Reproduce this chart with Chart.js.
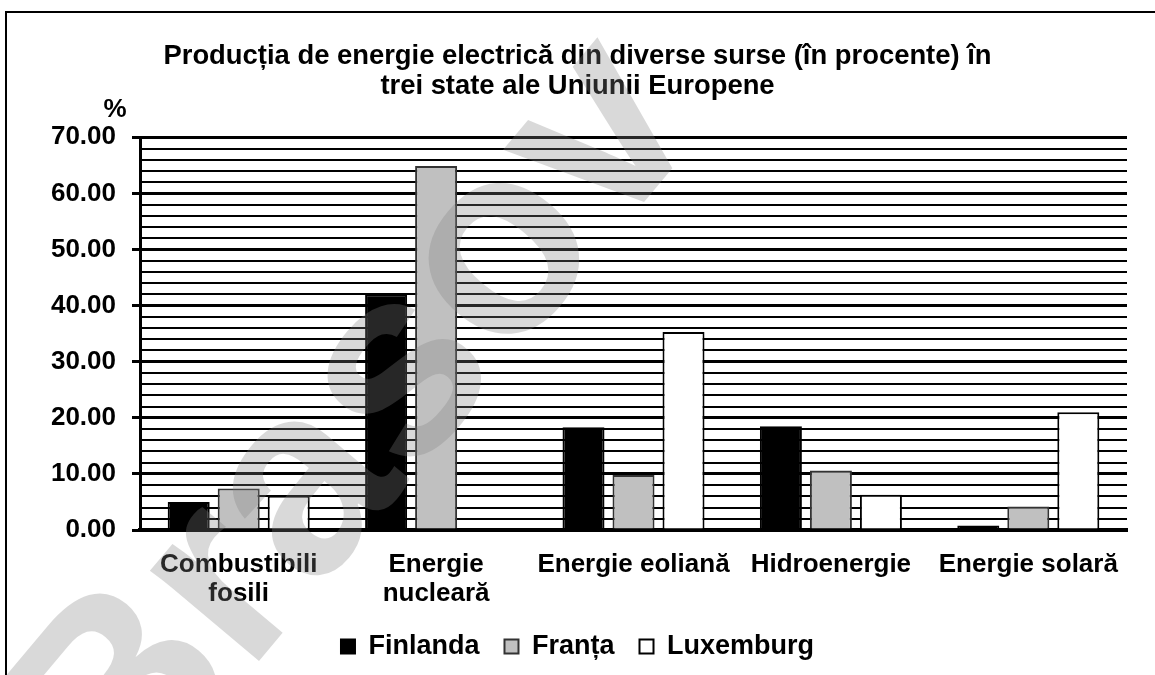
<!DOCTYPE html>
<html>
<head>
<meta charset="utf-8">
<script src="https://cdn.jsdelivr.net/npm/chart.js@4"></script>
<style>
    body { margin: 0; background: #fff; }
    #wrap { position: relative; width: 1155px; height: 675px; overflow: hidden; }
    #frame { position: absolute; left: 5px; top: 11px; width: 1200px; height: 700px; border: 2px solid #000; }
    #chart { position: absolute; left: 0; top: 0; }
</style>
</head>
<body>
<div id="wrap">
    <div id="frame"></div>
    <canvas id="chart" width="1155" height="675"></canvas>
</div>
<script>
const categories = [['Combustibili', 'fosili'], ['Energie', 'nucleară'], 'Energie eoliană', 'Hidroenergie', 'Energie solară'];
const finlanda = [5.0, 42.0, 18.3, 18.5, 0.8];
const franta = [7.4, 64.9, 9.8, 10.6, 4.2];
const luxemburg = [6.1, 0, 35.3, 6.3, 21.0];
const titleLines = ['Producția de energie electrică din diverse surse (în procente) în', 'trei state ale Uniunii Europene'];

Chart.defaults.font.family = '"Liberation Sans", Arial, sans-serif';
Chart.defaults.color = '#000';

// "%" above the value axis
const unitLabel = {
    id: 'unitLabel',
    afterDraw(chart) {
        const ctx = chart.ctx;
        const y = chart.scales.y;
        ctx.save();
        ctx.font = 'bold 26px "Liberation Sans", Arial';
        ctx.fillStyle = '#000';
        ctx.textAlign = 'center';
        ctx.textBaseline = 'middle';
        ctx.fillText('%', y.right - 25, chart.chartArea.top - 27);
        ctx.restore();
    }
};

// faint diagonal watermark
const watermark = {
    id: 'watermark',
    afterDraw(chart) {
        const ctx = chart.ctx;
        ctx.save();
        ctx.translate(358, 428);
        ctx.rotate(-50 * Math.PI / 180);
        ctx.font = 'bold 268px "Liberation Sans", Arial';
        ctx.fillStyle = 'rgba(128, 128, 128, 0.3)';
        ctx.textAlign = 'center';
        ctx.textBaseline = 'middle';
        ctx.fillText('Brasov', 0, 0);
        ctx.restore();
    }
};

new Chart(document.getElementById('chart'), {
    type: 'bar',
    data: {
        labels: categories,
        datasets: [
            { label: 'Finlanda', data: finlanda, backgroundColor: '#000', borderColor: '#000', borderWidth: 2 },
            { label: 'Franța', data: franta, backgroundColor: '#c0c0c0', borderColor: '#333', borderWidth: 2 },
            { label: 'Luxemburg', data: luxemburg, backgroundColor: '#fff', borderColor: '#000', borderWidth: 2 }
        ]
    },
    options: {
        responsive: false,
        animation: false,
        categoryPercentage: 0.76,
        barPercentage: 0.84,
        layout: { padding: { left: 0, right: 0, top: 0, bottom: 5 } },
        plugins: {
            title: {
                display: true,
                text: titleLines,
                font: { size: 27.4, weight: 'bold', lineHeight: 1.1 },
                padding: { top: 41, bottom: 36 }
            },
            legend: {
                position: 'bottom',
                labels: {
                    boxWidth: 14,
                    boxHeight: 14,
                    padding: 25,
                    font: { size: 27, weight: 'bold' }
                }
            },
            tooltip: { enabled: false }
        },
        scales: {
            x: {
                grid: { display: false },
                border: { color: '#000', width: 4 },
                ticks: {
                    autoSkip: false,
                    maxRotation: 0,
                    padding: 12,
                    font: { size: 26, weight: 'bold', lineHeight: 1.12 }
                },
                afterFit(scale) { scale.height = 78; }
            },
            y: {
                min: 0,
                max: 70,
                border: { color: '#000', width: 3 },
                grid: {
                    color: '#000',
                    lineWidth: c => (c.tick && c.tick.value % 10 === 0) ? 3 : 2,
                    tickLength: 8,
                    tickColor: c => (c.tick && c.tick.value % 10 === 0) ? '#000' : 'rgba(0,0,0,0)',
                    tickWidth: 3
                },
                ticks: {
                    stepSize: 2,
                    autoSkip: false,
                    padding: 16,
                    font: { size: 26, weight: 'bold' },
                    callback: v => v % 10 === 0 ? v.toFixed(2) : ''
                },
                afterFit(scale) { scale.width = 140; }
            },
            // empty right-hand strip so the plot stops short of the frame edge
            yRight: {
                position: 'right',
                grid: { display: false },
                border: { display: false },
                ticks: { display: false },
                afterFit(scale) { scale.width = 28; }
            }
        }
    },
    plugins: [unitLabel, watermark]
});
</script>
</body>
</html>
